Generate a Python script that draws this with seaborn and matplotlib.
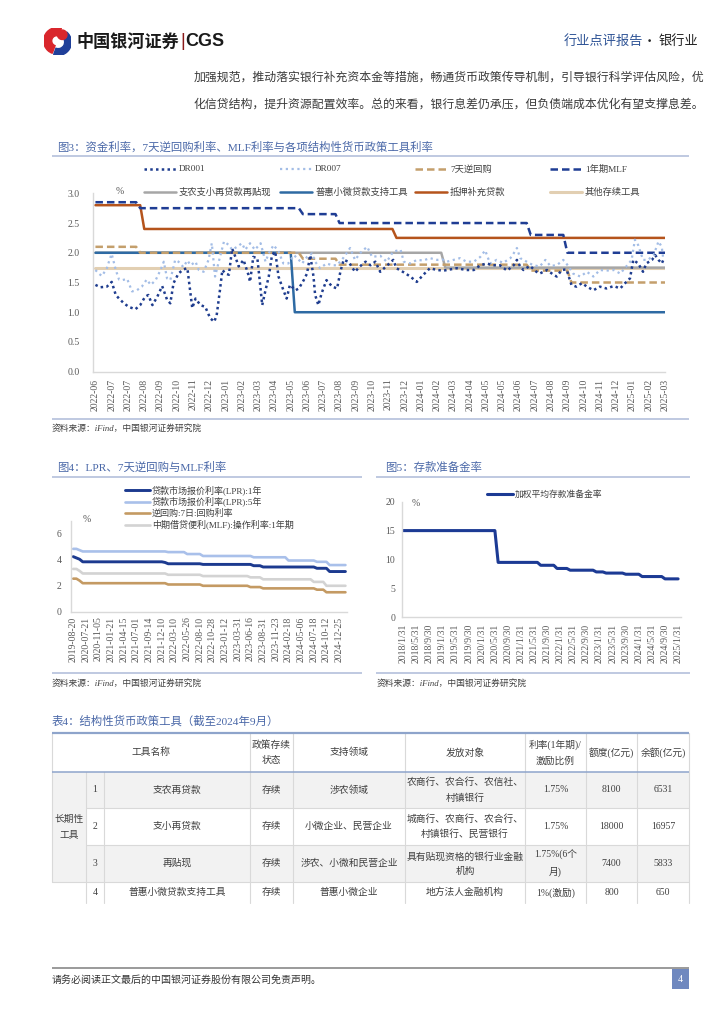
import numpy as np
import pandas as pd
import matplotlib
matplotlib.use('Agg')
import matplotlib.pyplot as plt
from matplotlib.patches import Rectangle, Wedge
import seaborn as sns

W, H = 724, 1024
CJK = ['Noto Sans CJK SC', 'DejaVu Sans']
MIX = ['Liberation Serif', 'Noto Sans CJK SC']

# ---------------- 图3 data (x = trading-day index, one tick label every 20 days)
f3_labels = ['2022-06', '2022-07', '2022-07', '2022-08', '2022-09', '2022-10', '2022-11', '2022-12',
             '2023-01', '2023-02', '2023-03', '2023-04', '2023-05', '2023-06', '2023-07', '2023-08',
             '2023-09', '2023-10', '2023-11', '2023-12', '2024-01', '2024-02', '2024-03', '2024-04',
             '2024-05', '2024-05', '2024-06', '2024-07', '2024-08', '2024-09', '2024-10', '2024-11',
             '2024-12', '2025-01', '2025-02', '2025-03']

dr001_day = [0, 6, 14, 20, 25, 29, 35, 41, 49, 55, 61, 65, 70, 76, 82, 88, 92, 96, 102, 108, 113, 119, 123,
             129, 135, 141, 146, 149, 153, 156, 160, 164, 168, 172, 176, 182, 188, 190, 194, 199, 201, 205,
             209, 213, 217, 221, 225, 231, 235, 239, 246, 250, 256, 260, 264, 268, 270, 274, 278, 284, 291,
             297, 301, 305, 311, 319, 325, 332, 338, 344, 350, 358, 366, 370, 379, 387, 395, 403, 411, 420,
             428, 436, 444, 456, 465, 473, 481, 489, 497, 506, 514, 518, 522, 526, 534, 542, 546, 555, 563,
             567, 573, 579, 585, 591, 598, 604, 612, 620, 628, 637, 645, 651, 657, 661, 667, 673, 677, 684,
             688, 692, 696, 698]
dr001 = [1.46, 1.42, 1.43, 1.51, 1.29, 1.23, 1.15, 1.09, 1.05, 1.12, 1.26, 1.29, 1.12, 1.26, 1.44, 1.21, 1.15,
         1.49, 1.65, 1.72, 1.74, 1.07, 1.23, 1.12, 1.09, 0.90, 0.84, 0.95, 1.37, 1.71, 1.65, 1.63, 2.07, 1.93,
         1.77, 1.88, 1.63, 1.51, 1.93, 1.91, 1.65, 1.12, 1.37, 1.60, 1.96, 2.02, 1.60, 1.37, 1.23, 1.46, 1.37,
         1.40, 1.54, 1.65, 1.96, 1.60, 1.29, 1.12, 1.32, 1.54, 1.43, 1.40, 1.68, 1.88, 1.85, 1.68, 1.77, 1.85,
         1.79, 1.85, 1.68, 1.78, 1.88, 1.74, 1.67, 1.60, 1.51, 1.63, 1.74, 1.71, 1.70, 1.72, 1.74, 1.71, 1.71,
         1.79, 1.82, 1.79, 1.79, 1.70, 1.79, 1.88, 1.77, 1.71, 1.78, 1.68, 1.65, 1.71, 1.63, 1.60, 1.71, 1.72,
         1.46, 1.43, 1.49, 1.43, 1.37, 1.43, 1.40, 1.44, 1.40, 1.49, 1.57, 1.88, 1.82, 1.68, 1.82, 1.88, 1.96,
         1.88, 1.82, 1.88]

dr007_day = [0, 4, 8, 14, 18, 20, 25, 29, 33, 39, 45, 51, 57, 63, 68, 74, 80, 84, 88, 92, 98, 102, 108, 113,
             117, 123, 127, 133, 139, 143, 147, 151, 158, 164, 168, 174, 180, 184, 190, 196, 203, 209, 213,
             219, 225, 231, 237, 244, 250, 254, 260, 266, 270, 276, 284, 291, 297, 305, 313, 319, 327, 334,
             340, 350, 358, 366, 375, 379, 387, 395, 403, 411, 420, 426, 432, 440, 448, 456, 465, 473, 479,
             485, 493, 501, 510, 514, 518, 522, 530, 538, 546, 553, 559, 567, 575, 581, 587, 596, 604, 612,
             620, 628, 637, 645, 653, 659, 663, 667, 673, 679, 686, 692, 696, 698]
dr007 = [1.71, 1.65, 1.61, 1.74, 1.91, 1.98, 1.71, 1.55, 1.54, 1.56, 1.35, 1.37, 1.43, 1.55, 1.46, 1.54, 1.71,
         1.85, 1.57, 1.54, 1.88, 1.85, 1.76, 1.87, 1.79, 1.85, 1.71, 1.68, 1.88, 2.16, 1.60, 1.82, 2.19, 2.13,
         2.05, 2.10, 2.16, 2.05, 2.16, 2.05, 2.16, 1.85, 1.99, 2.13, 2.02, 1.82, 1.82, 1.96, 1.88, 1.82, 1.93,
         1.99, 1.85, 1.74, 1.82, 1.79, 1.79, 1.92, 2.08, 1.88, 2.02, 2.10, 1.93, 1.95, 1.85, 2.02, 2.05, 1.85,
         1.82, 1.88, 1.87, 1.91, 1.88, 1.89, 1.85, 1.88, 1.91, 1.85, 1.85, 1.93, 2.04, 1.82, 1.88, 1.83, 1.91,
         1.99, 2.08, 1.91, 1.85, 1.79, 1.77, 1.88, 1.78, 1.79, 1.88, 1.78, 1.65, 1.60, 1.68, 1.60, 1.71, 1.70,
         1.71, 1.65, 1.78, 1.88, 2.22, 2.13, 1.88, 1.88, 1.96, 2.19, 2.10, 1.88]

# policy rates: day on which a new level starts, and the level
mlf_day, mlf = [0, 55, 255, 300, 535, 580], [2.85, 2.75, 2.65, 2.50, 2.30, 2.00]
rr7_day, rr7 = [0, 55, 255, 300, 535, 585], [2.10, 2.00, 1.90, 1.80, 1.70, 1.50]
psl_day, psl = [0, 60, 370], [2.80, 2.40, 2.25]
znzx_day, znzx = [0, 430], [2.00, 1.75]
phxw_day, phxw = [0, 245], [2.00, 1.00]
other_day, other = [0], [1.75]

# ---------------- 图4 data (x = position in tick-label units)
f4_labels = ['2019-08-20', '2020-07-21', '2020-11-05', '2021-01-21', '2021-04-15', '2021-07-01',
             '2021-09-14', '2021-12-10', '2022-03-10', '2022-05-26', '2022-08-10', '2022-10-28',
             '2023-01-12', '2023-03-31', '2023-06-16', '2023-08-31', '2023-11-23', '2024-02-18',
             '2024-05-06', '2024-07-18', '2024-10-12', '2024-12-25']
lpr1_u, lpr1 = [0, 0.25, 0.45, 0.6, 7.1, 7.4, 10.1, 14.05, 14.9, 19.05, 20.1], \
               [4.25, 4.15, 4.05, 3.85, 3.80, 3.70, 3.65, 3.55, 3.45, 3.35, 3.10]
lpr5_u, lpr5 = [0, 0.45, 0.6, 7.4, 9.0, 10.1, 14.05, 17.0, 19.05, 20.1], \
               [4.85, 4.75, 4.65, 4.60, 4.45, 4.30, 4.20, 3.95, 3.85, 3.60]
rr_u, rr = [0, 0.3, 0.45, 0.55, 7.35, 10.05, 13.95, 14.85, 19.05, 19.85], \
           [2.55, 2.50, 2.40, 2.20, 2.10, 2.00, 1.90, 1.80, 1.70, 1.50]
mlf4_u, mlf4 = [0, 0.3, 0.45, 0.6, 7.35, 10.05, 14.0, 14.85, 18.9, 19.8], \
               [3.30, 3.25, 3.15, 2.95, 2.85, 2.75, 2.65, 2.50, 2.30, 2.00]

# ---------------- 图5 data (monthly, 2018-01 .. 2025-01)
f5_labels = ['2018/1/31', '2018/5/31', '2018/9/30', '2019/1/31', '2019/5/31', '2019/9/30', '2020/1/31',
             '2020/5/31', '2020/9/30', '2021/1/31', '2021/5/31', '2021/9/30', '2022/1/31', '2022/5/31',
             '2022/9/30', '2023/1/31', '2023/5/31', '2023/9/30', '2024/1/31', '2024/5/31', '2024/9/30',
             '2025/1/31']
rrr_month = [0, 29, 42, 47, 51, 59, 62, 68, 73, 80]
rrr = [15.0, 9.5, 9.0, 8.45, 8.15, 7.85, 7.65, 7.45, 7.05, 6.65]

# ---------------- 表4
tab_head = ['工具名称', '政策存续\n状态', '支持领域', '发放对象', '利率(1年期)/\n激励比例', '额度(亿元)', '余额(亿元)']
tab_group = '长期性\n工具'
tab_rows = [
    ['1', '支农再贷款', '存续', '涉农领域', '农商行、农合行、农信社、\n村镇银行', '1.75%', '8100', '6531'],
    ['2', '支小再贷款', '存续', '小微企业、民营企业', '城商行、农商行、农合行、\n村镇银行、民营银行', '1.75%', '18000', '16957'],
    ['3', '再贴现', '存续', '涉农、小微和民营企业', '具有贴现资格的银行业金融\n机构', '1.75%(6个\n月)', '7400', '5833'],
    ['4', '普惠小微贷款支持工具', '存续', '普惠小微企业', '地方法人金融机构', '1%(激励)', '800', '650'],
]


def steps(starts, levels, grid):
    # hold each level until the next change
    return pd.Series(levels, index=starts).reindex(grid, method='ffill').to_numpy()


def box(l, t, r, b):
    return [l / W, 1 - b / H, (r - l) / W, (b - t) / H]


def style_axes(ax, ypad, xpad):
    sns.despine(ax=ax)
    for s in ['left', 'bottom']:
        ax.spines[s].set_color('#d9d9d9')
        ax.spines[s].set_linewidth(1.0)
    ax.set_facecolor('none')
    ax.grid(False)
    ax.set_xlabel('')
    ax.set_ylabel('')
    ax.tick_params(length=0, colors='#595959', labelsize=7)
    ax.tick_params(axis='y', pad=ypad)
    ax.tick_params(axis='x', pad=xpad, labelrotation=90)
    for lab in ax.get_xticklabels() + ax.get_yticklabels():
        lab.set_family('Liberation Serif')


sns.set_theme(style='white')
plt.rcParams['font.family'] = CJK
plt.rcParams['axes.unicode_minus'] = False

fig = plt.figure(figsize=(7.24, 10.24), dpi=100)
bg = fig.add_axes([0, 0, 1, 1])
bg.set_xlim(0, W)
bg.set_ylim(H, 0)
bg.axis('off')


def txt(x, y, s, size=7, color='#333333', ha='left', va='center', family=CJK, **kw):
    bg.text(x, y, s, fontsize=size, color=color, ha=ha, va=va, family=family, **kw)


def rule(x1, x2, y, color='#adbbd8', lw=1.1):
    bg.plot([x1, x2], [y, y], color=color, lw=lw, solid_capstyle='butt')


# ---------------- header
logo = fig.add_axes(box(43, 28, 72, 55))
logo.set_xlim(-1, 1)
logo.set_ylim(-1, 1)
logo.set_aspect('equal')
logo.axis('off')
logo.add_patch(Wedge((-0.05, 0.05), 0.98, 70, 250, width=0.6, color='#d9262c'))
logo.add_patch(Wedge((0.05, -0.05), 0.98, 250, 50, width=0.5, color='#1f3f99'))
logo.add_patch(Wedge((0.35, 0.5), 0.35, 0, 360, color='#d9262c'))

txt(77, 42, '中国银河证券', size=12.3, color='#1a1a1a', weight='bold')
txt(180, 42, '|', size=13, color='#8b1a1a', family=['Liberation Sans'])
txt(185, 42, 'CGS', size=13, color='#1a1a1a', weight='bold', family=['Liberation Sans'])
txt(564, 41, '行业点评报告', size=9.5, color='#2f5496')
txt(649, 41, '·', size=9.5, color='#222222', ha='center')
txt(659, 41, '银行业', size=9.5, color='#222222')

txt(194, 77, '加强规范，推动落实银行补充资本金等措施，畅通货币政策传导机制，引导银行科学评估风险，优',
    size=8.55, color='#3a3a3a')
txt(194, 104, '化信贷结构，提升资源配置效率。总的来看，银行息差仍承压，但负债端成本优化有望支撑息差。',
    size=8.55, color='#3a3a3a')

# ---------------- 图3
TITLE = '#4a68a8'
txt(57, 147, '图3：资金利率，7天逆回购利率、MLF利率与各项结构性货币政策工具利率', size=8.2, color=TITLE, family=MIX)
rule(52, 689, 156)

s_dr001 = dict(color='#1f3d8f', lw=1.8, ls=(0, (1, 1.3)))
s_dr007 = dict(color='#a3bde6', lw=1.6, ls=(0, (1, 1.6)))
s_rr7 = dict(color='#c49f6c', lw=1.8, ls=(0, (3, 1.6)))
s_mlf = dict(color='#1f3d94', lw=1.8, ls=(0, (3, 1.6)))
s_znzx = dict(color='#a6a6a6', lw=1.8, ls='-')
s_phxw = dict(color='#2e6aa3', lw=1.8, ls='-')
s_psl = dict(color='#b5541c', lw=1.8, ls='-')
s_other = dict(color='#e2cfb2', lw=2.2, ls='-')

ax3 = fig.add_axes(box(93, 193.3, 665, 371.7))
grid3 = np.arange(0, 701, 5)
for d, v, st in [(other_day, other, s_other), (znzx_day, znzx, s_znzx), (phxw_day, phxw, s_phxw),
                 (psl_day, psl, s_psl), (rr7_day, rr7, s_rr7), (mlf_day, mlf, s_mlf)]:
    sns.lineplot(x=grid3, y=steps(d, v, grid3), ax=ax3, legend=False, **st)
sns.lineplot(x=np.array(dr007_day), y=np.array(dr007), ax=ax3, legend=False, sort=False, estimator=None, **s_dr007)
sns.lineplot(x=np.array(dr001_day), y=np.array(dr001), ax=ax3, legend=False, sort=False, estimator=None, **s_dr001)
ax3.set_xlim(-3, 700)
ax3.set_ylim(0, 3.0)
ax3.set_xticks(np.arange(len(f3_labels)) * 20, f3_labels)
ax3.set_yticks(np.arange(0, 3.01, 0.5), [f'{v:.1f}' for v in np.arange(0, 3.01, 0.5)])
style_axes(ax3, ypad=9.5, xpad=5)
txt(120, 192, '%', size=7, color='#595959', family=MIX, ha='center')

leg3 = [('DR001', s_dr001), ('DR007', s_dr007), ('7天逆回购', s_rr7), ('1年期MLF', s_mlf),
        ('支农支小再贷款再贴现', s_znzx), ('普惠小微贷款支持工具', s_phxw), ('抵押补充贷款', s_psl),
        ('其他存续工具', s_other)]
for i, (name, st) in enumerate(leg3):
    lx = [144, 280, 415, 550][i % 4]
    ly = [169, 192][i // 4]
    bg.plot([lx, lx + 32], [ly, ly], **st)
    txt(lx + 35, ly, name, size=6.7, color='#404040', family=MIX)

rule(52, 689, 419)
txt(52, 428, '资料来源：iFind，中国银河证券研究院', size=6.3, color='#404040', family=MIX, style='italic')

# ---------------- 图4
txt(57, 467, '图4：LPR、7天逆回购与MLF利率', size=8.2, color=TITLE, family=MIX)
rule(52, 362, 477)
s_l1 = dict(color='#1c3a8f', lw=2.1, ls='-')
s_l5 = dict(color='#a9c0ea', lw=1.9, ls='-')
s_rr = dict(color='#c49a63', lw=1.9, ls='-')
s_m4 = dict(color='#d3d3d3', lw=1.9, ls='-')

ax4 = fig.add_axes(box(70.7, 521, 346.7, 611.7))
grid4 = np.arange(0, 21.61, 0.25)
for u, v, st in [(mlf4_u, mlf4, s_m4), (rr_u, rr, s_rr), (lpr5_u, lpr5, s_l5), (lpr1_u, lpr1, s_l1)]:
    sns.lineplot(x=grid4, y=steps(u, v, grid4), ax=ax4, legend=False, **st)
ax4.set_xlim(-0.2, 21.6)
ax4.set_ylim(0, 7)
ax4.set_xticks(np.arange(len(f4_labels)), f4_labels)
ax4.set_yticks([0, 2, 4, 6], ['0', '2', '4', '6'])
style_axes(ax4, ypad=6.5, xpad=3.5)
txt(87, 520, '%', size=7, color='#595959', family=MIX, ha='center')
leg4 = [('贷款市场报价利率(LPR):1年', s_l1), ('贷款市场报价利率(LPR):5年', s_l5),
        ('逆回购:7日:回购利率', s_rr), ('中期借贷便利(MLF):操作利率:1年期', s_m4)]
for i, (name, st) in enumerate(leg4):
    ly = [490, 501.7, 513.3, 524.5][i]
    bg.plot([125, 150], [ly, ly], **st)
    txt(152, ly, name, size=6.5, color='#404040', family=MIX)
rule(52, 362, 673)
txt(52, 683, '资料来源：iFind，中国银河证券研究院', size=6.3, color='#404040', family=MIX, style='italic')

# ---------------- 图5
txt(385, 467, '图5：存款准备金率', size=8.2, color=TITLE, family=MIX)
rule(376, 690, 477)
s_rrr = dict(color='#1c3a94', lw=2.2, ls='-')
ax5 = fig.add_axes(box(402.3, 501.7, 680.7, 617.3))
grid5 = np.arange(0, 85)
sns.lineplot(x=grid5, y=steps(rrr_month, rrr, grid5), ax=ax5, legend=False, **s_rrr)
ax5.set_xlim(-0.3, 84.8)
ax5.set_ylim(0, 20)
ax5.set_xticks(np.arange(len(f5_labels)) * 4, f5_labels)
ax5.set_yticks([0, 5, 10, 15, 20], ['0', '5', '10', '15', '20'])
style_axes(ax5, ypad=5, xpad=4.5)
txt(416, 503, '%', size=7, color='#595959', family=MIX, ha='center')
bg.plot([487, 513], [494, 494], **s_rrr)
txt(515, 494, '加权平均存款准备金率', size=6.3, color='#404040', family=MIX)
rule(376, 690, 673)
txt(377, 683, '资料来源：iFind，中国银河证券研究院', size=6.3, color='#404040', family=MIX, style='italic')

# ---------------- 表4
txt(52, 721, '表4：结构性货币政策工具（截至2024年9月）', size=8.2, color=TITLE, family=MIX)
tx = [52, 86, 104, 250, 293, 405, 525, 586, 637, 689]
ty = [733, 772, 808, 845, 882, 903]
GRAY, LINE = '#f2f2f2', '#d9d9d9'
for r in range(4):
    if r % 2 == 0:
        bg.add_patch(Rectangle((tx[1], ty[r + 1]), tx[-1] - tx[1], ty[r + 2] - ty[r + 1], color=GRAY, lw=0))
bg.add_patch(Rectangle((tx[0], ty[1]), tx[1] - tx[0], ty[4] - ty[1], color=GRAY, lw=0))

# vertical cell borders
for x in tx[3:]:
    bg.plot([x, x], [ty[0], ty[-1]], color=LINE, lw=0.8)
for x in tx[1:3]:
    bg.plot([x, x], [ty[1], ty[-1]], color=LINE, lw=0.8)
bg.plot([tx[0], tx[0]], [ty[0], ty[4]], color=LINE, lw=0.8)
for y in ty[2:4]:
    bg.plot([tx[1], tx[-1]], [y, y], color=LINE, lw=0.8)
bg.plot([tx[0], tx[-1]], [ty[4], ty[4]], color=LINE, lw=0.8)
rule(tx[0], tx[-1], ty[0], color='#8ea4cb', lw=1.6)
rule(tx[0], tx[-1], ty[1], color='#8ea4cb', lw=1.1)

hx = [(tx[0] + tx[3]) / 2] + [(tx[i] + tx[i + 1]) / 2 for i in range(3, 9)]
for x, s in zip(hx, tab_head):
    txt(x, (ty[0] + ty[1]) / 2, s, size=7, color='#404040', ha='center', family=MIX, linespacing=1.9)
txt((tx[0] + tx[1]) / 2, (ty[1] + ty[4]) / 2, tab_group, size=7, color='#404040', ha='center',
    family=MIX, linespacing=1.9)
for r, row in enumerate(tab_rows):
    yc = (ty[r + 1] + ty[r + 2]) / 2
    for c, s in enumerate(row):
        txt((tx[c + 1] + tx[c + 2]) / 2, yc, s, size=7, color='#404040', ha='center', family=MIX,
            linespacing=1.75)

# ---------------- footer
rule(52, 689, 968, color='#7f7f7f', lw=1.1)
bg.add_patch(Rectangle((672, 969), 17, 20, color='#6f88bf', lw=0))
txt(680.5, 979, '4', size=7, color='white', ha='center', family=MIX)
txt(52, 980, '请务必阅读正文最后的中国银河证券股份有限公司免责声明。', size=7.2, color='#333333')

fig.savefig('out.png', dpi=100)
